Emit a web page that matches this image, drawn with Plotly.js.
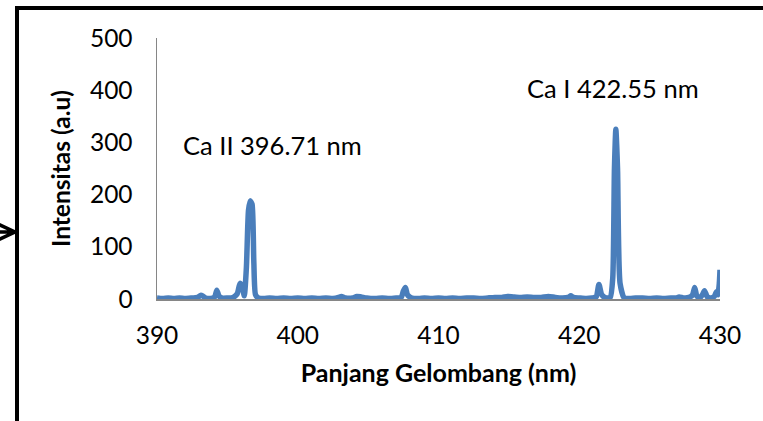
<!DOCTYPE html>
<html>
<head>
<meta charset="utf-8">
<script src="https://cdn.plot.ly/plotly-3.0.1.min.js"></script>
<style>html,body{margin:0;padding:0;background:#fff;}#chart{width:763px;height:421px;}</style>
</head>
<body>
<div id="chart"></div>
<script>
// Wavelength (nm)
const wavelength = [390, 390.4, 390.8, 391.2, 391.6, 392, 392.5, 392.9, 393.1, 393.25, 393.45, 393.8, 394.1, 394.25, 394.4, 394.6, 395.0, 395.4, 395.7, 395.9, 396.05, 396.2, 396.35, 396.5, 396.62, 396.75, 396.88, 397.0, 397.2, 397.6, 398, 398.5, 399, 399.5, 400, 400.5, 401, 401.5, 402, 402.5, 402.9, 403.1, 403.4, 403.9, 404.2, 404.5, 404.9, 405.5, 406, 406.5, 407, 407.35, 407.5, 407.65, 407.8, 408.1, 408.6, 409, 409.5, 410, 410.5, 411, 411.5, 412, 412.5, 413, 413.5, 414, 414.5, 414.9, 415.3, 415.8, 416.3, 416.8, 417.3, 417.8, 418.3, 418.8, 419.2, 419.4, 419.6, 420, 420.5, 420.9, 421.2, 421.4, 421.6, 421.9, 422.2, 422.38, 422.5, 422.6, 422.72, 422.9, 423.2, 423.6, 424, 424.5, 425, 425.5, 426, 426.5, 426.9, 427.1, 427.4, 427.8, 428.05, 428.2, 428.35, 428.55, 428.75, 428.9, 429.1, 429.35, 429.6, 429.75, 429.85, 429.95, 430];
// Intensity (a.u.)
const intensity = [2, 1, 2, 1, 2, 1, 2, 3, 7, 6, 2, 1, 4, 17, 6, 2, 2, 3, 10, 30, 26, 6, 60, 170, 188, 182, 70, 8, 2, 1, 2, 1, 2, 1, 2, 1, 2, 1, 2, 1, 3, 5, 2, 2, 5, 4, 2, 1, 2, 1, 2, 3, 15, 22, 8, 2, 1, 2, 1, 2, 1, 2, 1, 2, 2, 1, 2, 3, 3, 5, 4, 3, 4, 3, 3, 5, 3, 2, 3, 6, 3, 2, 1, 2, 4, 28, 8, 2, 3, 40, 250, 325, 250, 30, 2, 1, 2, 2, 1, 2, 1, 2, 2, 4, 2, 3, 8, 22, 6, 2, 8, 16, 4, 2, 5, 14, 8, 30, 56];

const peakLabels = ["Ca II 396.71 nm", "Ca I 422.55 nm"];
const peakLabelX = [398.2, 422.4];
const peakLabelY = [295, 404];

const xTicks = [390, 400, 410, 420, 430];
const yTicks = [0, 100, 200, 300, 400, 500];

const FONT = "Lato, 'Open Sans', 'Liberation Sans', sans-serif";
const W = 763, H = 421, L = 157, R = 43, T = 38, B = 122;
const pw = W - L - R, ph = H - T - B;
const px = v => (v - L) / pw;
const py = v => (H - B - v) / ph;

const trace = {
  x: wavelength, y: intensity, type: 'scatter', mode: 'lines',
  line: {color: '#4A7EBB', width: 5.5, shape: 'spline', smoothing: 0.6},
  hoverinfo: 'skip', cliponaxis: false
};

const layout = {
  width: W, height: H,
  margin: {l: L, r: R, t: T, b: B, pad: 0},
  paper_bgcolor: '#fff', plot_bgcolor: '#fff',
  showlegend: false,
  font: {family: FONT, color: '#000', size: 24},
  xaxis: {
    range: [390, 430], tickvals: xTicks, ticktext: xTicks.map(String),
    showgrid: false, zeroline: false, showline: true, linecolor: '#868686', linewidth: 1.5,
    ticks: '', ticklen: 0, tickfont: {family: FONT, size: 24.5, color: '#000'},
    ticklabelstandoff: 14,
    title: {text: 'Panjang Gelombang (nm)', font: {family: FONT, size: 25, color: '#000', weight: 'bold'}, standoff: 16},
    automargin: false
  },
  yaxis: {
    range: [0, 500], tickvals: yTicks, ticktext: yTicks.map(String),
    showgrid: false, zeroline: false, showline: true, linecolor: '#868686', linewidth: 1.5,
    ticks: '', ticklen: 0, tickfont: {family: FONT, size: 24.5, color: '#000'},
    ticklabelstandoff: 18,
    title: {text: 'Intensitas (a.u)', font: {family: FONT, size: 24.5, color: '#000', weight: 'bold'}, standoff: 12},
    automargin: false
  },
  annotations: peakLabels.map((t, i) => ({
    text: t, x: peakLabelX[i], y: peakLabelY[i], xref: 'x', yref: 'y',
    showarrow: false, xanchor: 'center', yanchor: 'middle',
    font: {family: FONT, size: 25.5, color: '#000'}
  })),
  shapes: [
    {type: 'path', xref: 'paper', yref: 'paper',
     path: `M ${px(17)} ${py(440)} L ${px(17)} ${py(8)} L ${px(780)} ${py(8)}`,
     line: {color: '#000', width: 4}},
    {type: 'path', xref: 'paper', yref: 'paper',
     path: `M ${px(-2)} ${py(224)} L ${px(15)} ${py(232)} L ${px(-2)} ${py(240)} M ${px(-2)} ${py(232)} L ${px(15)} ${py(232)}`,
     line: {color: '#000', width: 3.5}}
  ]
};

Plotly.newPlot('chart', [trace], layout, {displayModeBar: false, staticPlot: true});
</script>
</body>
</html>
